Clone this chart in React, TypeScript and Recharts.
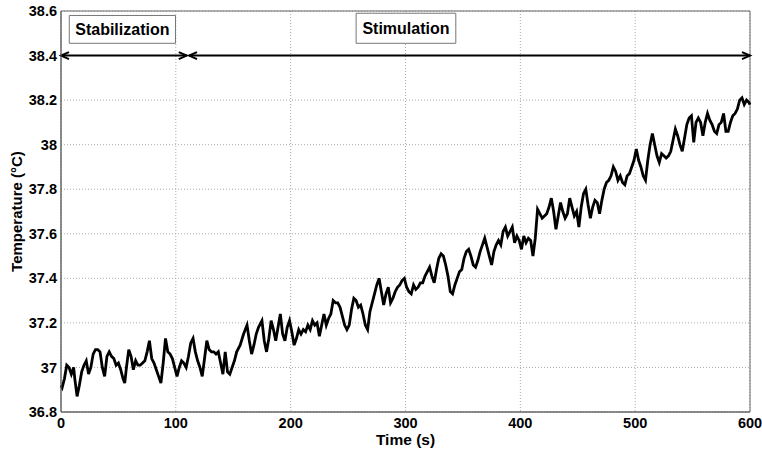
import React from 'react';
import { LineChart, Line, XAxis, YAxis, CartesianGrid, ReferenceLine, ReferenceArea } from 'recharts';

const times = [
  0, 1, 3, 5, 7, 9, 11, 12, 14, 16, 18, 20, 22, 24, 26, 28, 30, 32, 34, 36, 38, 40, 42, 44, 46, 48, 50, 52, 54, 55.5,
  57, 59, 61, 63, 65, 67, 69, 71, 73, 75, 77, 79, 81, 83, 85, 87, 89, 91, 93, 95, 97, 99, 101, 103, 105, 107, 109,
  111, 113, 115, 117, 119, 121, 123, 125, 127, 129, 131, 133, 135, 137, 139, 141, 143, 145, 147, 149, 151, 153, 156,
  159, 162, 164, 166, 168, 170, 172, 175, 177, 179, 181, 183, 185, 187, 189, 191, 193, 195, 197, 199, 201, 203, 205,
  207, 209, 211, 213, 215, 217, 219, 221, 223, 225, 227, 229, 231, 233, 235, 237, 239, 241, 243, 245, 247, 249, 251,
  253, 255, 257, 259, 261, 263, 265, 267, 269, 271, 273, 275, 277, 279, 281, 283, 285, 287, 289, 291, 293, 295, 297,
  299, 301, 303, 305, 307, 309, 311, 313, 315, 317, 319, 321, 323, 325, 327, 329, 331, 333, 335, 337, 339, 341, 343,
  345, 347, 349, 351, 353, 355, 357, 359, 361, 363, 365, 367, 369, 371, 373, 375, 377, 379, 381, 383, 385, 387, 389,
  391, 393, 395, 397, 399, 401, 403, 405, 407, 409, 411, 413, 415, 417, 419, 421, 423, 425, 427, 429, 431, 433, 435,
  437, 439, 441, 443, 445, 447, 449, 451, 453, 455, 457, 459, 461, 463, 465, 467, 469, 471, 473, 475, 477, 479, 481,
  483, 485, 487, 489, 491, 493, 495, 497, 499, 501, 503, 505, 507, 509, 511, 513, 515, 517, 519, 521, 523, 525, 527,
  529, 531, 533, 535, 537, 539, 541, 543, 545, 547, 549, 551, 553, 555, 557, 559, 561, 563, 565, 567, 569, 571, 573,
  575, 577, 579, 581, 583, 585, 587, 589, 591, 593, 595, 597, 599, 600,
];

const temperatures = [
  36.92, 36.91, 36.95, 37.01, 37.0, 36.97, 37.0, 36.95, 36.87, 36.92, 36.98, 37.01, 37.03, 36.97, 37.0, 37.06, 37.08,
  37.08, 37.07, 37.0, 36.96, 37.05, 37.07, 37.05, 37.04, 37.01, 37.02, 36.99, 36.95, 36.93,
  37.0, 37.08, 37.05, 36.99, 37.03, 37.01, 37.01, 37.02, 37.03, 37.07, 37.12, 37.04, 37.02, 36.99, 36.96, 36.93, 37.02,
  37.13, 37.07, 37.06, 37.04, 37.0, 36.96, 37.0, 37.03, 37.02, 37.0,
  37.05, 37.11, 37.13, 37.07, 37.03, 37.0, 36.96, 37.04, 37.12, 37.08, 37.07, 37.07, 37.06, 37.07, 37.02, 36.97, 37.07,
  36.98, 36.97, 37.0, 37.03, 37.07, 37.1,
  37.15, 37.19, 37.12, 37.06, 37.1, 37.15, 37.18, 37.21, 37.12, 37.07, 37.13, 37.21, 37.17, 37.12, 37.18, 37.24, 37.15,
  37.12, 37.18, 37.21, 37.16, 37.1, 37.13,
  37.17, 37.15, 37.17, 37.16, 37.19, 37.17, 37.21, 37.19, 37.2, 37.14, 37.19, 37.24, 37.19, 37.22, 37.24, 37.3, 37.29,
  37.29, 37.27, 37.23, 37.19, 37.17, 37.19,
  37.26, 37.31, 37.3, 37.27, 37.28, 37.24, 37.19, 37.17, 37.25, 37.29, 37.33, 37.37, 37.4, 37.34, 37.28, 37.33, 37.36,
  37.29, 37.31, 37.34, 37.36, 37.37, 37.39,
  37.4, 37.36, 37.34, 37.33, 37.37, 37.35, 37.36, 37.38, 37.38, 37.41, 37.43, 37.45, 37.41, 37.38, 37.44, 37.49, 37.51,
  37.5, 37.46, 37.41, 37.34, 37.33, 37.37,
  37.4, 37.43, 37.44, 37.49, 37.52, 37.53, 37.5, 37.46, 37.45, 37.48, 37.52, 37.55, 37.58, 37.54, 37.5, 37.46, 37.52,
  37.55, 37.57, 37.55, 37.61, 37.63, 37.59,
  37.61, 37.63, 37.56, 37.59, 37.57, 37.53, 37.59, 37.56, 37.58, 37.57, 37.5, 37.58, 37.71, 37.69, 37.67, 37.68, 37.69,
  37.72, 37.76, 37.7, 37.62, 37.68, 37.74,
  37.7, 37.67, 37.69, 37.76, 37.72, 37.68, 37.7, 37.63, 37.72, 37.78, 37.8, 37.73, 37.67, 37.72, 37.75, 37.74, 37.69,
  37.75, 37.8, 37.83, 37.84, 37.86, 37.9,
  37.88, 37.84, 37.86, 37.83, 37.82, 37.86, 37.87, 37.9, 37.93, 37.98, 37.93, 37.9, 37.86, 37.84, 37.93, 38.0, 38.05,
  38.0, 37.95, 37.92, 37.96, 37.95, 37.94,
  37.95, 37.97, 38.02, 38.07, 38.04, 38.0, 37.97, 38.03, 38.09, 38.12, 38.13, 38.01, 38.1, 38.12, 38.1, 38.04, 38.1,
  38.14, 38.11, 38.09, 38.06, 38.05, 38.09,
  38.1, 38.14, 38.06, 38.06, 38.1, 38.13, 38.14, 38.16, 38.2, 38.21, 38.18, 38.2, 38.19, 38.18,
];

const xTicks = [0, 100, 200, 300, 400, 500, 600];
const yTicks = [36.8, 37.0, 37.2, 37.4, 37.6, 37.8, 38.0, 38.2, 38.4, 38.6];

const phaseNames = ['Stabilization', 'Stimulation'];
const phaseArrowStart = [0, 111.5];
const phaseArrowEnd = [109.5, 600];
const phaseArrowLevel = 38.4;
const phaseBoxX1 = [7.2, 257];
const phaseBoxX2 = [99.7, 343.8];
const phaseBoxY1 = [38.455, 38.455];
const phaseBoxY2 = [38.58, 38.59];

const data = times.map((t, i) => ({ t, temp: temperatures[i] }));

const FONT = '"Liberation Sans", Arial, sans-serif';

const ArrowShape = (props: any) => {
  const { x1, y1, x2, y2 } = props;
  const h = 8;
  const w = 3.5;
  return (
    <g>
      <line x1={x1} y1={y1} x2={x2} y2={y2} stroke="#000" strokeWidth={2} />
      <path d={`M${x1 + h},${y1 - w} L${x1},${y1} L${x1 + h},${y1 + w}`} fill="none" stroke="#000" strokeWidth={2} />
      <path d={`M${x2 - h},${y2 - w} L${x2},${y2} L${x2 - h},${y2 + w}`} fill="none" stroke="#000" strokeWidth={2} />
    </g>
  );
};

const fmtY = (v: number) => String(Number(v.toFixed(1)));

const tickStyle = { fill: '#000', fontFamily: FONT, fontWeight: 'bold', fontSize: 14.5 } as const;
const labelStyle = { fill: '#000', fontFamily: FONT, fontWeight: 'bold', fontSize: 15.5 } as const;

export default function App() {
  return (
    <div style={{ position: 'absolute', left: 0, top: 0, width: 762, height: 452, background: '#fff' }}>
      <LineChart width={762} height={452} data={data} margin={{ top: 11, right: 12, bottom: 0, left: 0 }}>
        <CartesianGrid stroke="#aaa" strokeDasharray="1 2" />
        <XAxis
          dataKey="t"
          type="number"
          domain={[0, 600]}
          ticks={xTicks}
          height={40}
          stroke="#666"
          tickLine={false}
          tickSize={0}
          tickMargin={6}
          tick={tickStyle}
          label={{
            value: 'Time (s)',
            position: 'insideBottom',
            offset: 7,
            style: labelStyle,
          }}
        />
        <YAxis
          type="number"
          domain={[36.8, 38.6]}
          ticks={yTicks}
          width={61}
          stroke="#666"
          tickLine={false}
          tickSize={0}
          tickMargin={4}
          tickFormatter={fmtY}
          tick={tickStyle}
          label={{
            value: 'Temperature (°C)',
            angle: -90,
            position: 'insideLeft',
            offset: 17,
            style: { ...labelStyle, fontSize: 15, textAnchor: 'middle' },
          }}
        />
        <ReferenceArea x1={0} x2={600} y1={36.8} y2={38.6} fill="none" stroke="#666" strokeWidth={1} />
        {phaseNames.map((name, i) => (
          <ReferenceArea
            key={name}
            x1={phaseBoxX1[i]}
            x2={phaseBoxX2[i]}
            y1={phaseBoxY1[i]}
            y2={phaseBoxY2[i]}
            fill="#fff"
            fillOpacity={1}
            stroke="#777"
            strokeWidth={1}
            label={{
              value: name,
              position: 'center',
              style: { ...labelStyle, fontSize: 16 },
            }}
          />
        ))}
        {phaseNames.map((name, i) => (
          <ReferenceLine
            key={name + '-arrow'}
            segment={[
              { x: phaseArrowStart[i], y: phaseArrowLevel },
              { x: phaseArrowEnd[i], y: phaseArrowLevel },
            ]}
            shape={ArrowShape}
          />
        ))}
        <Line
          type="linear"
          dataKey="temp"
          stroke="#000"
          strokeWidth={2.8}
          dot={false}
          isAnimationActive={false}
        />
      </LineChart>
    </div>
  );
}
